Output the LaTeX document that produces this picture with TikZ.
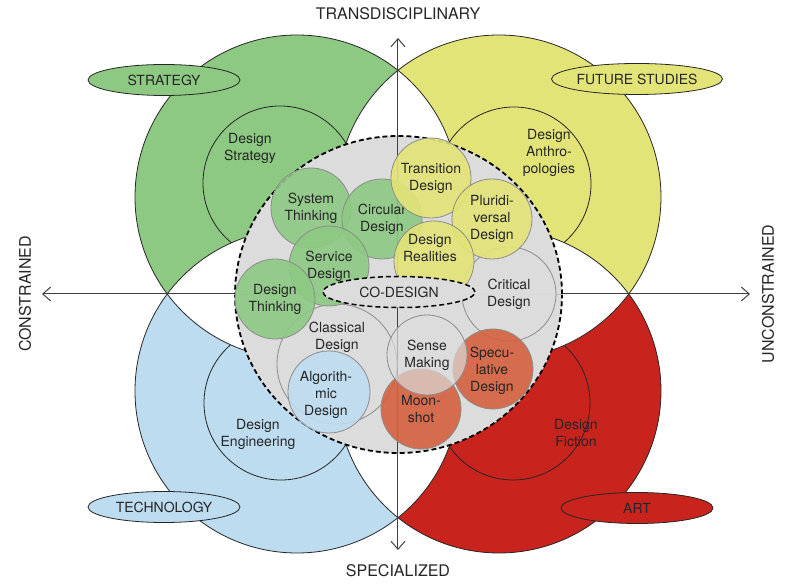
\documentclass[tikz,border=0pt]{standalone}
\usepackage{fontspec}
\setmainfont{TeX Gyre Heros}
\usetikzlibrary{shapes.geometric,arrows.meta}
\definecolor{gruen}{HTML}{8DC983}
\definecolor{gelb}{HTML}{E3E477}
\definecolor{blau}{HTML}{BDDCF0}
\definecolor{rot}{HTML}{C8241D}
\definecolor{rotk}{HTML}{D5603F}
\definecolor{grau}{HTML}{DCDCDC}
\newcommand{\lblfont}{\fontsize{14}{17}\selectfont}
\newcommand{\axfont}{\fontsize{16}{18}\selectfont}

\begin{document}
\begin{tikzpicture}[x=1pt,y=1pt]
  \tikzstyle{feld} = [draw=black!85, line width=0.8pt]
  \tikzstyle{c} = [draw=black!45, line width=0.8pt, shape=circle, anchor=center, minimum size=80pt, inner sep=0pt, align=center, font=\lblfont, text=black!85, fill opacity=0.9, text opacity=1]
  \tikzstyle{t} = [align=center, font=\lblfont, text=black!85, inner sep=0pt]
  \tikzstyle{oval} = [draw=black!85, line width=0.8pt, shape=ellipse, minimum width=152pt, minimum height=31pt, inner sep=0pt, font=\lblfont, text=black!85]
  \tikzstyle{achse} = [draw=black!75, line width=1pt, {Straight Barb[length=8pt,width=14pt]}-{Straight Barb[length=8pt,width=14pt]}]
  \useasboundingbox (-398,-291) rectangle (398,294);

  % Zentren der Felder
  \coordinate (g) at (-101,97);
  \coordinate (y) at (101,97);
  \coordinate (b) at (-101,-97);
  \coordinate (r) at (101,-97);

  % Felder
  \fill[gruen] (g) circle[radius=162pt];
  \fill[gelb] (y) circle[radius=162pt];
  \fill[blau] (b) circle[radius=162pt];
  \fill[rot] (r) circle[radius=162pt];

  % Design-Kreise in den Feldern
  \draw[feld] (-118,111) circle[radius=77pt];
  \draw[feld] (116,110) circle[radius=77pt];
  \draw[feld] (-117,-109) circle[radius=77pt];
  \draw[feld] (115,-109) circle[radius=77pt];

  % Ueberschneidungen weiss
  \begin{scope}
    \clip (g) circle[radius=162pt];
    \fill[white] (y) circle[radius=162pt] (b) circle[radius=162pt] (r) circle[radius=162pt];
  \end{scope}
  \begin{scope}
    \clip (y) circle[radius=162pt];
    \fill[white] (b) circle[radius=162pt] (r) circle[radius=162pt];
  \end{scope}
  \begin{scope}
    \clip (b) circle[radius=162pt];
    \fill[white] (r) circle[radius=162pt];
  \end{scope}
  \draw[feld] (g) circle[radius=162pt] (y) circle[radius=162pt]
    (b) circle[radius=162pt] (r) circle[radius=162pt];

  % Achsen
  \coordinate (w) at (-356,0);
  \coordinate (o) at (352,0);
  \coordinate (n) at (0,256);
  \coordinate (s) at (0,-256);
  \draw[achse] (w) -- (o);

  % Co-Design Feld
  \node[draw=black, line width=1.8pt, dash pattern=on 5pt off 3pt, shape=ellipse,
    minimum width=327pt, minimum height=317pt, inner sep=0pt,
    fill=grau] (pool) at (0.5,-0.5) {};
  \draw[black!25, line width=0.8pt] (pool.west) -- (pool.east);
  \draw[achse] (s) -- (n);

  % Kreise
  \node[c, fill=grau, minimum size=120pt] (klass) at (-61,-70) {};
  \node[c, fill=grau, minimum size=94pt] (krit) at (111,0) {Critical\\Design};
  \node[c, fill=gruen] (sys) at (-87,86) {System\\Thinking};
  \node[c, fill=gruen] (zirk) at (-16,75) {Circular\\Design};
  \node[c, fill=gruen] (serv) at (-69,28) {Service\\Design};
  \node[c, fill=gruen] (dthk) at (-123,-5) {Design\\Thinking};
  \node[c, fill=blau, minimum size=82pt] (algo) at (-69,-98) {};
  \node[c, fill=gelb] (trans) at (33,116) {Transition\\Design};
  \node[c, fill=gelb] (pluri) at (94,75) {Pluridi-\\versal\\Design};
  \node[c, fill=gelb] (real) at (36,33) {};
  \node[c, fill=rotk] (spek) at (95,-75) {};
  \node[c, fill=rotk] (moon) at (23,-115) {Moon-\\shot};
  \node[c, fill=grau, fill opacity=0.7] (sense) at (29,-61) {Sense\\Making};
  \node[t] (klasst) at (-61,-43) {Classical\\Design};
  \node[t] (algot) at (-72,-101) {Algorith-\\mic\\Design};
  \node[t] (realt) at (32,46) {Design\\Realities};
  \node[t] (spekt) at (94,-77) {Specu-\\lative\\Design};
  \node[oval, draw=black, line width=1.5pt, dash pattern=on 5pt off 3pt, fill=grau] (codes) at (1,2) {CO-DESIGN};

  % Texte der Design-Kreise
  \node[t] (dstrat) at (-148,146) {Design\\Strategy};
  \node[t] (danth) at (151,141) {Design\\Anthro-\\pologies};
  \node[t] (deng) at (-140,-140) {Design\\Engineering};
  \node[t] (dfic) at (178,-139) {Design\\Fiction};

  % Felder beschriftet
  \node[oval, fill=gruen] (strat) at (-234,214) {STRATEGY};
  \node[oval, fill=gelb] (fut) at (239,215) {FUTURE STUDIES};
  \node[oval, fill=blau] (tech) at (-234,-213) {TECHNOLOGY};
  \node[oval, fill=rot] (art) at (239,-214) {ART};

  % Achsen beschriftet
  \node[font=\axfont, text=black!85] (trd) at (0,280) {TRANSDISCIPLINARY};
  \node[font=\axfont, text=black!85] (spz) at (0,-277) {SPECIALIZED};
  \node[font=\axfont, text=black!85, rotate=90] (con) at (-373,0) {CONSTRAINED};
  \node[font=\axfont, text=black!85, rotate=90] (uncon) at (370,0) {UNCONSTRAINED};
\end{tikzpicture}
\end{document}
